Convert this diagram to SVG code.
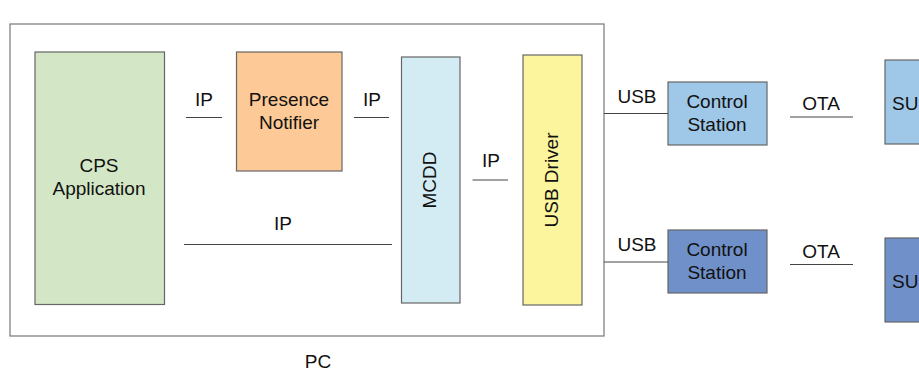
<svg xmlns="http://www.w3.org/2000/svg" width="919" height="372" viewBox="0 0 919 372">
<style>
text{font-family:"Liberation Sans",Arial,sans-serif;font-size:19px;fill:#111;text-anchor:middle}
.box{stroke:#666;stroke-width:1.2}
.ln{stroke:#444;stroke-width:1;fill:none}
</style>
<rect width="919" height="372" fill="#fff"/>
<g id="pc"><rect x="10" y="24" width="594" height="312" fill="#fff" stroke="#777" stroke-width="1.2"/><text x="318" y="368">PC</text></g>
<g id="cps"><rect class="box" x="35" y="52" width="129.5" height="252.5" fill="#d3e7c6"/><text x="99" y="172">CPS</text><text x="99" y="195">Application</text></g>
<g id="presence"><rect class="box" x="236.5" y="52" width="105.5" height="119" fill="#fdc996"/><text x="289" y="106">Presence</text><text x="289" y="129">Notifier</text></g>
<g id="mcdd"><rect class="box" x="401.5" y="57" width="58.5" height="246" fill="#d3ebf3"/><text transform="translate(436 180) rotate(-90)">MCDD</text></g>
<g id="usbdriver"><rect class="box" x="523" y="55" width="59" height="250" fill="#fcf59d"/><text transform="translate(558 180) rotate(-90)">USB Driver</text></g>
<g id="cs1"><rect class="box" x="668" y="82" width="99" height="63" fill="#9fc7e8"/><text x="717" y="108">Control</text><text x="717" y="131">Station</text></g>
<g id="cs2"><rect class="box" x="668" y="230" width="99" height="63" fill="#7090c9"/><text x="717" y="256">Control</text><text x="717" y="279">Station</text></g>
<g id="su1"><rect class="box" x="885" y="60" width="40" height="84" fill="#9fc7e8"/><text x="892" y="110" style="text-anchor:start">SU</text></g>
<g id="su2"><rect class="box" x="885" y="238" width="40" height="84" fill="#7090c9"/><text x="892" y="288" style="text-anchor:start">SU</text></g>
<g id="connectors">
<line class="ln" x1="186" y1="117.5" x2="222" y2="117.5"/>
<line class="ln" x1="354" y1="117.5" x2="389" y2="117.5"/>
<line class="ln" x1="184" y1="244.5" x2="392" y2="244.5"/>
<line class="ln" x1="472.5" y1="180" x2="508" y2="180"/>
<line class="ln" x1="604" y1="113.5" x2="668" y2="113.5"/>
<line class="ln" x1="604" y1="262" x2="668" y2="262"/>
<line class="ln" x1="790" y1="117" x2="853" y2="117"/>
<line class="ln" x1="790" y1="264.5" x2="853" y2="264.5"/>
<text x="204" y="106">IP</text>
<text x="372" y="106">IP</text>
<text x="283" y="230">IP</text>
<text x="491" y="167">IP</text>
<text x="637" y="103">USB</text>
<text x="637" y="251">USB</text>
<text x="821" y="110">OTA</text>
<text x="821" y="258">OTA</text>
</g>
</svg>
